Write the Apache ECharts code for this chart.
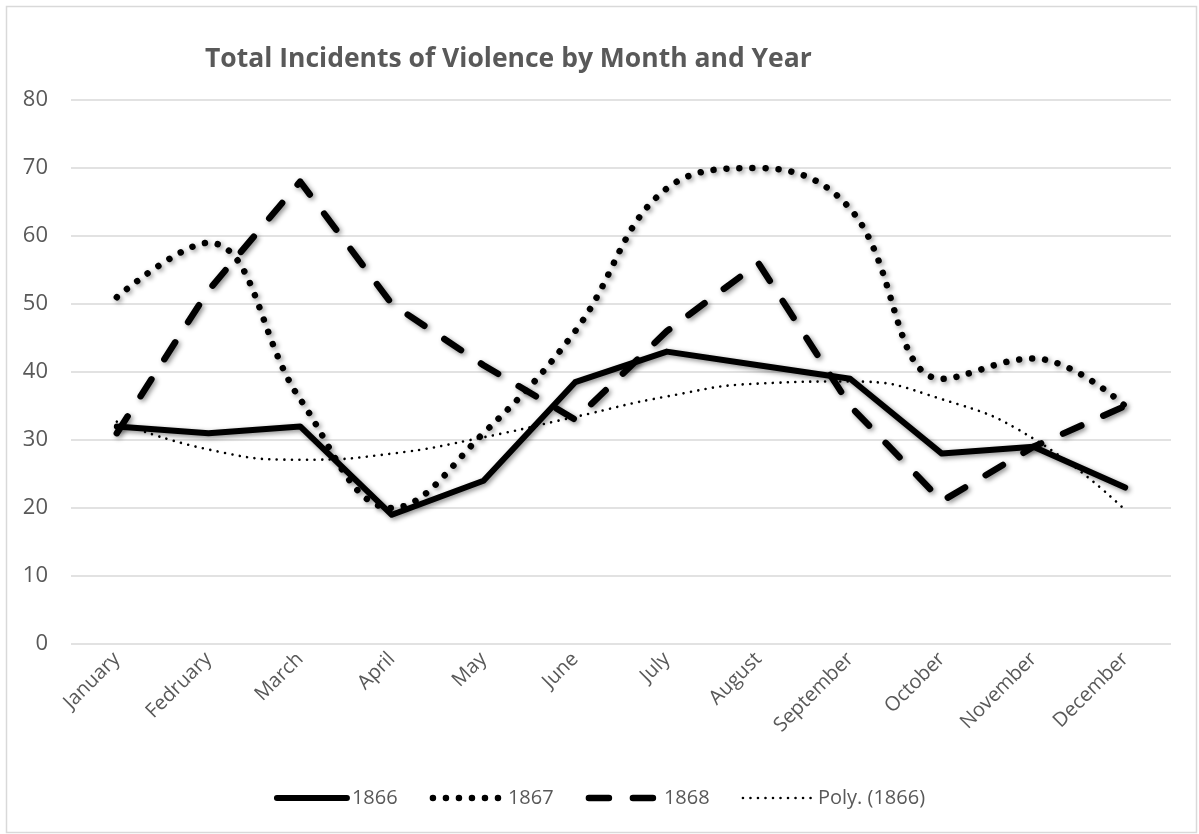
<!DOCTYPE html>
<html>
<head>
<meta charset="utf-8">
<script src="https://cdn.jsdelivr.net/npm/echarts@6/dist/echarts.min.js"></script>
<style>
html,body{margin:0;padding:0;background:#fff;}
#c{width:1199px;height:834px;}
</style>
</head>
<body>
<div id="c"></div>
<script>
const months = ['January','Fedruary','March','April','May','June','July','August','September','October','November','December'];
const yTicks = [0, 10, 20, 30, 40, 50, 60, 70, 80];
const s1866 = [32, 31, 32, 19, 24, 38.5, 43, 41, 39, 28, 29, 23];
const s1867 = [51, 59, 36, 20, 31, 46, 67, 70, 64, 39, 42, 35];
const s1868 = [31, 52, 68, 50, 41, 33, 46, 56, 35, 21, 29, 35];
const poly1866 = [32.7, 28.6, 27.1, 28.0, 30.4, 33.4, 36.4, 38.3, 38.6, 36.0, 30.2, 19.7];
const seriesNames = ['1866', '1867', '1868', 'Poly. (1866)'];

const shadow = {shadowBlur: 5, shadowColor: 'rgba(0,0,0,0.45)', shadowOffsetX: 2, shadowOffsetY: 2};
const font = '"Open Sans", sans-serif';
const grey = '#595959';

const chart = echarts.init(document.getElementById('c'), null, {renderer: 'canvas'});
chart.setOption({
  animation: false,
  backgroundColor: '#ffffff',
  color: ['#000', '#000', '#000', '#000'],
  title: {
    text: 'Total Incidents of Violence by Month and Year',
    left: 205, top: 46, padding: 0,
    textStyle: {fontFamily: font, fontSize: 26.5, fontWeight: 'bold', color: grey}
  },
  graphic: [{
    type: 'rect', silent: true,
    shape: {x: 6.5, y: 6.5, width: 1190, height: 826},
    style: {fill: 'none', stroke: '#d9d9d9', lineWidth: 1.5}
  }],
  grid: {left: 71, right: 28, top: 100, bottom: 190, containLabel: false},
  legend: {
    data: seriesNames,
    left: 'center', top: 783,
    itemWidth: 70, itemHeight: 14, itemGap: 32,
    textStyle: {fontFamily: font, fontSize: 20, color: grey},
    itemStyle: {opacity: 0},
    lineStyle: {width: 'inherit', type: 'inherit', cap: 'inherit', shadowBlur: 0, shadowColor: 'transparent', shadowOffsetX: 0, shadowOffsetY: 0}
  },
  xAxis: {
    type: 'category',
    data: months,
    boundaryGap: true,
    axisLine: {show: false},
    axisTick: {show: false},
    axisLabel: {rotate: 45, margin: 12, fontFamily: font, fontSize: 20, color: grey, interval: 0}
  },
  yAxis: {
    type: 'value',
    min: yTicks[0], max: yTicks[yTicks.length - 1], interval: 10,
    axisLine: {show: false},
    axisTick: {show: false},
    splitLine: {lineStyle: {color: '#d9d9d9', width: 1.5}},
    axisLabel: {margin: 23, fontFamily: font, fontSize: 22, color: grey}
  },
  series: [
    {
      name: seriesNames[0], type: 'line', data: s1866, symbol: 'none',
      itemStyle: {color: '#000'},
      lineStyle: Object.assign({color: '#000', width: 6, type: 'solid', cap: 'round', join: 'round'}, shadow),
      z: 4
    },
    {
      name: seriesNames[1], type: 'line', data: s1867, symbol: 'none', smooth: 0.4,
      itemStyle: {color: '#000'},
      lineStyle: Object.assign({color: '#000', width: 6.5, type: [0.01, 13], cap: 'round'}, shadow),
      z: 3
    },
    {
      name: seriesNames[2], type: 'line', data: s1868, symbol: 'none',
      itemStyle: {color: '#000'},
      lineStyle: Object.assign({color: '#000', width: 6.5, type: [20, 24], cap: 'round', join: 'round'}, shadow),
      z: 3
    },
    {
      name: seriesNames[3], type: 'line', data: poly1866, symbol: 'none', smooth: 0.5,
      itemStyle: {color: '#000'},
      lineStyle: {color: '#000', width: 2.6, type: [0.01, 7.5], cap: 'round'},
      z: 5
    }
  ]
});
</script>
</body>
</html>
